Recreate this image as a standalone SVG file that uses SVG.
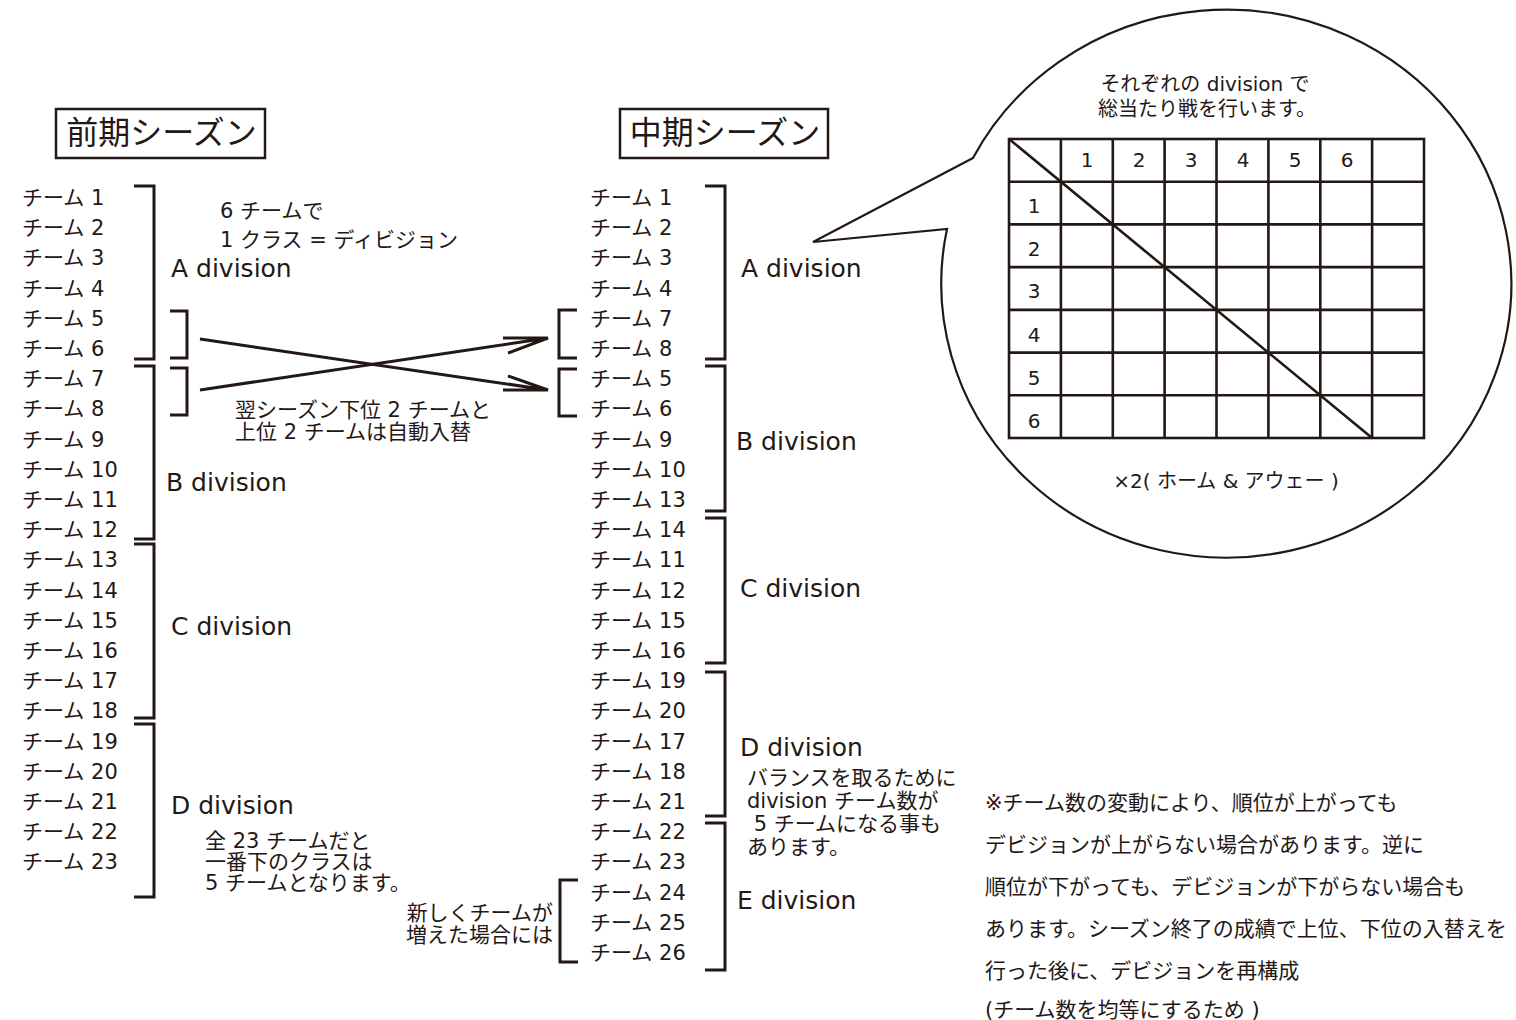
<svg xmlns="http://www.w3.org/2000/svg" width="1516" height="1020" viewBox="0 0 1516 1020">
<style>
text{font-family:"DejaVu Sans","Noto Sans CJK JP",sans-serif;fill:#231815}
.t{font-size:21px}
.d{font-size:25px}
.n{font-size:20px}
.h{font-size:32px}
.ln{fill:none;stroke:#231815;stroke-width:3}
.bx{fill:none;stroke:#231815;stroke-width:2.5}
.g{fill:none;stroke:#231815;stroke-width:2.6}
</style>
<rect width="1516" height="1020" fill="#fff"/>

<g id="title-early">
<rect class="bx" x="56" y="109" width="209" height="49"/>
<text class="h" x="161.5" y="144" text-anchor="middle">前期シーズン</text>
</g>
<g id="title-mid">
<rect class="bx" x="620" y="109" width="208" height="49"/>
<text class="h" x="725" y="144" text-anchor="middle">中期シーズン</text>
</g>

<g id="early-teams" class="t">
<text x="22" y="205">チーム 1</text>
<text x="22" y="235.2">チーム 2</text>
<text x="22" y="265.4">チーム 3</text>
<text x="22" y="295.6">チーム 4</text>
<text x="22" y="325.8">チーム 5</text>
<text x="22" y="356">チーム 6</text>
<text x="22" y="386.2">チーム 7</text>
<text x="22" y="416.4">チーム 8</text>
<text x="22" y="446.6">チーム 9</text>
<text x="22" y="476.8">チーム 10</text>
<text x="22" y="507">チーム 11</text>
<text x="22" y="537.2">チーム 12</text>
<text x="22" y="567.4">チーム 13</text>
<text x="22" y="597.6">チーム 14</text>
<text x="22" y="627.8">チーム 15</text>
<text x="22" y="658">チーム 16</text>
<text x="22" y="688.2">チーム 17</text>
<text x="22" y="718.4">チーム 18</text>
<text x="22" y="748.6">チーム 19</text>
<text x="22" y="778.8">チーム 20</text>
<text x="22" y="809">チーム 21</text>
<text x="22" y="839.2">チーム 22</text>
<text x="22" y="869.4">チーム 23</text>
</g>

<g id="mid-teams" class="t">
<text x="590" y="205">チーム 1</text>
<text x="590" y="235.2">チーム 2</text>
<text x="590" y="265.4">チーム 3</text>
<text x="590" y="295.6">チーム 4</text>
<text x="590" y="325.8">チーム 7</text>
<text x="590" y="356">チーム 8</text>
<text x="590" y="386.2">チーム 5</text>
<text x="590" y="416.4">チーム 6</text>
<text x="590" y="446.6">チーム 9</text>
<text x="590" y="476.8">チーム 10</text>
<text x="590" y="507">チーム 13</text>
<text x="590" y="537.2">チーム 14</text>
<text x="590" y="567.4">チーム 11</text>
<text x="590" y="597.6">チーム 12</text>
<text x="590" y="627.8">チーム 15</text>
<text x="590" y="658">チーム 16</text>
<text x="590" y="688.2">チーム 19</text>
<text x="590" y="718.4">チーム 20</text>
<text x="590" y="748.6">チーム 17</text>
<text x="590" y="778.8">チーム 18</text>
<text x="590" y="809">チーム 21</text>
<text x="590" y="839.2">チーム 22</text>
<text x="590" y="869.4">チーム 23</text>
<text x="590" y="899.6">チーム 24</text>
<text x="590" y="929.8">チーム 25</text>
<text x="590" y="960">チーム 26</text>
</g>

<g id="early-divisions" class="d">
<text x="171" y="277">A division</text>
<text x="166" y="491">B division</text>
<text x="171" y="635">C division</text>
<text x="171" y="814">D division</text>
</g>

<g id="mid-divisions" class="d">
<text x="741" y="277">A division</text>
<text x="736" y="450">B division</text>
<text x="740" y="597">C division</text>
<text x="740" y="756">D division</text>
<text x="737" y="909">E division</text>
</g>

<g id="notes" class="t">
<text x="220" y="218">6 チームで</text>
<text x="220" y="247">1 クラス = ディビジョン</text>
<text x="235" y="417">翌シーズン下位 2 チームと</text>
<text x="235" y="439">上位 2 チームは自動入替</text>
<text x="205" y="848">全 23 チームだと</text>
<text x="205" y="869">一番下のクラスは</text>
<text x="205" y="890">5 チームとなります。</text>
<text x="553" y="920" text-anchor="end">新しくチームが</text>
<text x="553" y="942" text-anchor="end">増えた場合には</text>
<text x="747" y="785">バランスを取るために</text>
<text x="747" y="808">division チーム数が</text>
<text x="747" y="831" xml:space="preserve"> 5 チームになる事も</text>
<text x="747" y="854">あります。</text>
</g>

<g id="footnote" class="t">
<text x="985" y="810">※チーム数の変動により、順位が上がっても</text>
<text x="985" y="852">デビジョンが上がらない場合があります。逆に</text>
<text x="985" y="894">順位が下がっても、デビジョンが下がらない場合も</text>
<text x="985" y="936">あります。シーズン終了の成績で上位、下位の入替えを</text>
<text x="985" y="978">行った後に、デビジョンを再構成</text>
<text x="985" y="1017">(チーム数を均等にするため )</text>
</g>

<g id="connectors">
<path class="ln" d="M134,186 H154 V359 H134"/>
<path class="ln" d="M134,366 H154 V539 H134"/>
<path class="ln" d="M134,544 H154 V718 H134"/>
<path class="ln" d="M134,724 H154 V897 H134"/>
<path class="ln" d="M170,311 H187 V358 H170"/>
<path class="ln" d="M170,368 H187 V415 H170"/>
<path class="ln" d="M705,186 H725 V359 H705"/>
<path class="ln" d="M705,366 H725 V511 H705"/>
<path class="ln" d="M705,518 H725 V663 H705"/>
<path class="ln" d="M705,672 H725 V816 H705"/>
<path class="ln" d="M705,823 H725 V970 H705"/>
<path class="ln" d="M577,310 H559 V358 H577"/>
<path class="ln" d="M577,369 H559 V416 H577"/>
<path class="ln" d="M578,880 H560 V962 H578"/>
<path class="ln" d="M200,339 L548,390 M503,390 H548 L508,376"/>
<path class="ln" d="M200,390 L548,338 M503,338 H548 L508,353"/>
</g>

<g id="bubble">
<path d="M973,158 L813,242 L947,229 A285,274 0 1 0 973,158 Z" fill="#fff" stroke="#231815" stroke-width="2.2" stroke-linejoin="miter"/>
<text class="n" x="1205" y="91" text-anchor="middle">それぞれの division で</text>
<text class="n" x="1207" y="116" text-anchor="middle">総当たり戦を行います。</text>
<g id="table">
<rect class="g" x="1009" y="139" width="415" height="299"/>
<path class="g" d="M1060.9,139 V438 M1112.8,139 V438 M1164.6,139 V438 M1216.5,139 V438 M1268.4,139 V438 M1320.3,139 V438 M1372.1,139 V438"/>
<path class="g" d="M1009,181.7 H1424 M1009,224.4 H1424 M1009,267.1 H1424 M1009,309.9 H1424 M1009,352.6 H1424 M1009,395.3 H1424"/>
<path class="g" d="M1009,139 L1372.1,438"/>
<g class="n" text-anchor="middle">
<text x="1087" y="167">1</text>
<text x="1139" y="167">2</text>
<text x="1191" y="167">3</text>
<text x="1243" y="167">4</text>
<text x="1295" y="167">5</text>
<text x="1347" y="167">6</text>
<text x="1034" y="213">1</text>
<text x="1034" y="256">2</text>
<text x="1034" y="298">3</text>
<text x="1034" y="342">4</text>
<text x="1034" y="385">5</text>
<text x="1034" y="428">6</text>
</g>
</g>
<text class="n" x="1226" y="488" text-anchor="middle">×2( ホーム &amp; アウェー )</text>
</g>
</svg>
